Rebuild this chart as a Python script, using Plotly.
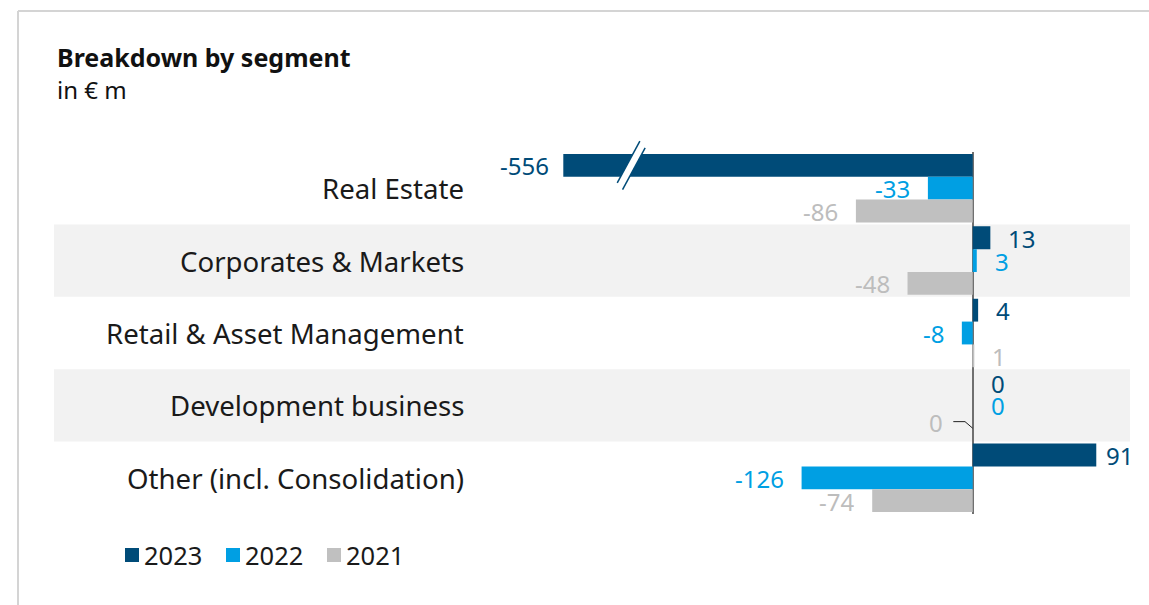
import plotly.graph_objects as go

# ---- data (EUR m) ----
SEGMENTS = [
    "Real Estate",
    "Corporates & Markets",
    "Retail & Asset Management",
    "Development business",
    "Other (incl. Consolidation)",
]
YEARS = ["2023", "2022", "2021"]
VALUES_2023 = [-556, 13, 4, 0, 91]
VALUES_2022 = [-33, 3, -8, 0, -126]
VALUES_2021 = [-86, -48, 1, 0, -74]
COLORS = ["#004B78", "#009FE3", "#C0C0C0"]

SERIES = list(zip(YEARS, [VALUES_2023, VALUES_2022, VALUES_2021], COLORS))

# ---- layout geometry (pixels) ----
W, H = 1149, 605
ZERO_PX = 972.7          # where x = 0 sits
PX_PER_UNIT = 1.358      # horizontal scale
PLOT_LEFT_PX = 563.3     # left edge of the plotting area (axis break)
ROW0_PX = 188.2          # centre of first category
ROW_PITCH = 72.4         # distance between categories
BARGAP = 0.054
FONT = "Noto Sans"
TEXT_COLOR = "#1a1a1a"
BAND_COLOR = "#F2F2F2"

x_min = (PLOT_LEFT_PX - ZERO_PX) / PX_PER_UNIT
x_max = (W - ZERO_PX) / PX_PER_UNIT
n = len(SEGMENTS)
y_top_px = ROW0_PX - 0.5 * ROW_PITCH
y_bot_px = ROW0_PX + (n - 0.5) * ROW_PITCH
bar_w = (1 - BARGAP) / len(SERIES)


def px(xv):
    return ZERO_PX + xv * PX_PER_UNIT


fig = go.Figure()
for name, vals, col in SERIES:
    fig.add_trace(go.Bar(
        y=SEGMENTS, x=vals, name=name, orientation="h",
        marker=dict(color=col, line=dict(width=0)),
        showlegend=False, hoverinfo="skip",
    ))

shapes = []
annotations = []

# shaded bands behind every second category
for j in range(1, n, 2):
    shapes.append(dict(type="rect", xref="paper", yref="y",
                       x0=54 / W, x1=1130 / W, y0=j - 0.5, y1=j + 0.5,
                       fillcolor=BAND_COLOR, line=dict(width=0), layer="below"))

# outer frame lines
shapes.append(dict(type="line", xref="paper", yref="paper", x0=18 / W, x1=1,
                   y0=1 - 11 / H, y1=1 - 11 / H, line=dict(color="#D4D4D4", width=2)))
shapes.append(dict(type="line", xref="paper", yref="paper", x0=18 / W, x1=18 / W,
                   y0=0, y1=1 - 11 / H, line=dict(color="#D4D4D4", width=2)))

# category labels
for j, seg in enumerate(SEGMENTS):
    annotations.append(dict(xref="paper", yref="y", x=466 / W, y=j, text=seg,
                            xanchor="right", yanchor="middle", showarrow=False,
                            font=dict(family=FONT, size=27.6, color=TEXT_COLOR)))

# value labels
GAP = 17
for i, (name, vals, col) in enumerate(SERIES):
    for j, v in enumerate(vals):
        yc = j + (i - 1) * bar_w
        label_col = col if col != "#C0C0C0" else "#BDBDBD"
        xshift, yshift = 0, 0
        if v < x_min:                       # clipped bar: label at the break edge
            xa, xv, xshift = "right", x_min, -13
        elif v < 0:
            xa, xv, xshift = "right", v, -GAP
        elif v == 0 and i == 2:             # zero shown with a leader line to the left
            xa, xv, xshift, yshift = "right", 0, -28.7, 6.6
            lx = [0, -7.7 / PX_PER_UNIT, -19.4 / PX_PER_UNIT]
            ly = [yc, yc - 6.6 / ROW_PITCH, yc - 6.6 / ROW_PITCH]
            shapes.append(dict(type="line", xref="x", yref="y", x0=lx[0], y0=ly[0],
                               x1=lx[1], y1=ly[1], line=dict(color="#222", width=1)))
            shapes.append(dict(type="line", xref="x", yref="y", x0=lx[1], y0=ly[1],
                               x1=lx[2], y1=ly[2], line=dict(color="#222", width=1)))
        else:
            long_bar = v * PX_PER_UNIT > 100
            xa, xv, xshift = "left", v, (8.7 if long_bar else GAP)
        annotations.append(dict(xref="x", yref="y", x=xv, y=yc, text=str(v),
                                xanchor=xa, yanchor="middle", xshift=xshift,
                                yshift=yshift, showarrow=False, height=22,
                                borderpad=0,
                                font=dict(family=FONT, size=24, color=label_col)))

# axis-break marker on the truncated bar
bx = px(x_min + 50)
by = ROW0_PX - bar_w * ROW_PITCH
dx, dy = 11.3, 20.9      # half-length of each slash
ox, oy = 5.3, 6.6        # offset between the two slashes
p1 = (bx - ox / 2 - dx, by - oy / 2 + dy)
p2 = (bx - ox / 2 + dx, by - oy / 2 - dy)
p3 = (bx + ox / 2 + dx, by + oy / 2 - dy)
p4 = (bx + ox / 2 - dx, by + oy / 2 + dy)


def pp(pt):
    return f"{pt[0] / W:.5f},{1 - pt[1] / H:.5f}"


shapes.append(dict(type="path", xref="paper", yref="paper",
                   path=f"M{pp(p1)} L{pp(p2)} L{pp(p3)} L{pp(p4)} Z",
                   fillcolor="white", line=dict(width=0)))
shapes.append(dict(type="path", xref="paper", yref="paper",
                   path=f"M{pp(p1)} L{pp(p2)}", line=dict(color=COLORS[0], width=1.5)))
shapes.append(dict(type="path", xref="paper", yref="paper",
                   path=f"M{pp(p4)} L{pp(p3)}", line=dict(color=COLORS[0], width=1.5)))

# title
annotations.append(dict(xref="paper", yref="paper", x=55 / W, y=1 - 57 / H,
                        text="<b>Breakdown by segment</b>", xanchor="left",
                        yanchor="middle", showarrow=False,
                        font=dict(family=FONT, size=25, color="#111")))
annotations.append(dict(xref="paper", yref="paper", x=55 / W, y=1 - 89 / H,
                        text="in € m", xanchor="left", yanchor="middle",
                        showarrow=False, font=dict(family=FONT, size=24, color="#111")))

# legend
for k, (name, vals, col) in enumerate(SERIES):
    lx = 125 + 101 * k
    shapes.append(dict(type="rect", xref="paper", yref="paper",
                       x0=lx / W, x1=(lx + 14) / W, y0=1 - 562 / H, y1=1 - 548 / H,
                       fillcolor=col, line=dict(width=0)))
    annotations.append(dict(xref="paper", yref="paper", x=(lx + 17) / W, y=1 - 555 / H,
                            text=name, xanchor="left", yanchor="middle",
                            showarrow=False,
                            font=dict(family=FONT, size=25.5, color=TEXT_COLOR)))

fig.update_layout(
    width=W, height=H,
    margin=dict(l=0, r=0, t=0, b=0),
    paper_bgcolor="white", plot_bgcolor="rgba(0,0,0,0)",
    barmode="group", bargap=BARGAP, bargroupgap=0,
    font=dict(family=FONT),
    xaxis=dict(domain=[PLOT_LEFT_PX / W, 1], range=[x_min, x_max],
               showgrid=False, showticklabels=False, ticks="",
               zeroline=True, zerolinecolor="#707070", zerolinewidth=1.5,
               fixedrange=True),
    yaxis=dict(domain=[1 - y_bot_px / H, 1 - y_top_px / H], type="category",
               categoryorder="array", categoryarray=SEGMENTS,
               range=[n - 0.5, -0.5], showgrid=False, showticklabels=False,
               ticks="", zeroline=False, fixedrange=True),
    shapes=shapes,
    annotations=annotations,
)

fig.write_html("out.html")
